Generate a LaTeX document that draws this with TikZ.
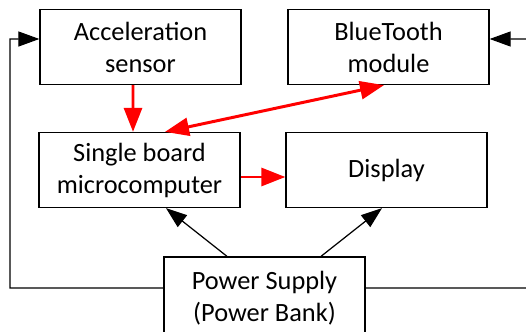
\documentclass[tikz,border=0pt]{standalone}
\usepackage{fontspec}
\setmainfont{Carlito}
\usetikzlibrary{arrows.meta}
\begin{document}
\begin{tikzpicture}[x=0.02cm,y=-0.02cm,
	block/.style={draw,line width=0.75pt,minimum width=4.02cm,minimum height=1.5cm,
		align=center,font=\fontsize{15}{18.2}\selectfont},
	power/.style={-{Triangle[length=0.42cm,width=0.3cm]},line width=0.7pt},
	data/.style={-{Triangle[length=0.48cm,width=0.36cm]},red,line width=1.7pt}]

\useasboundingbox (0,0) rectangle (526,331);

\node[block] (acc) at (140.5,47) {Acceleration\\sensor};
\node[block] (bt) at (388.5,47) {BlueTooth\\module};
\node[block] (sbc) at (139.5,170) {Single board\\microcomputer};
\node[block] (disp) at (386.5,170) {Display};
\node[block,minimum height=1.64cm] (pwr) at (264.5,298) {Power Supply\\(Power Bank)};

\coordinate (lbot) at (10,288);
\coordinate (ltop) at (10,39);
\coordinate (rbot) at (545,288);
\coordinate (rtop) at (545,39);

% data paths
\draw[data] ([xshift=-0.15cm]acc.south) -- ([xshift=-0.13cm]sbc.north);
\draw[data,{Triangle[length=0.48cm,width=0.36cm]}-{Triangle[length=0.48cm,width=0.36cm]}]
	([xshift=0.51cm]sbc.north) -- ([xshift=-0.09cm]bt.south);
\draw[data] ([yshift=-0.14cm]sbc.east) -- ([yshift=-0.14cm]disp.west);

% supply lines
\foreach \from/\to in {-0.75cm/0.53cm, 1.13cm/-0.09cm}
	\draw[power] ([xshift=\from]pwr.north) -- ([xshift=\to]\ifdim\from<0pt sbc\else disp\fi.south);

\draw[power] ([yshift=0.2cm]pwr.west) -- (lbot) -- (ltop) -- ([yshift=0.16cm]acc.west);
\draw[power] ([yshift=0.2cm]pwr.east) -- (rbot) -- (rtop) -- ([yshift=0.16cm]bt.east);

\end{tikzpicture}
\end{document}
